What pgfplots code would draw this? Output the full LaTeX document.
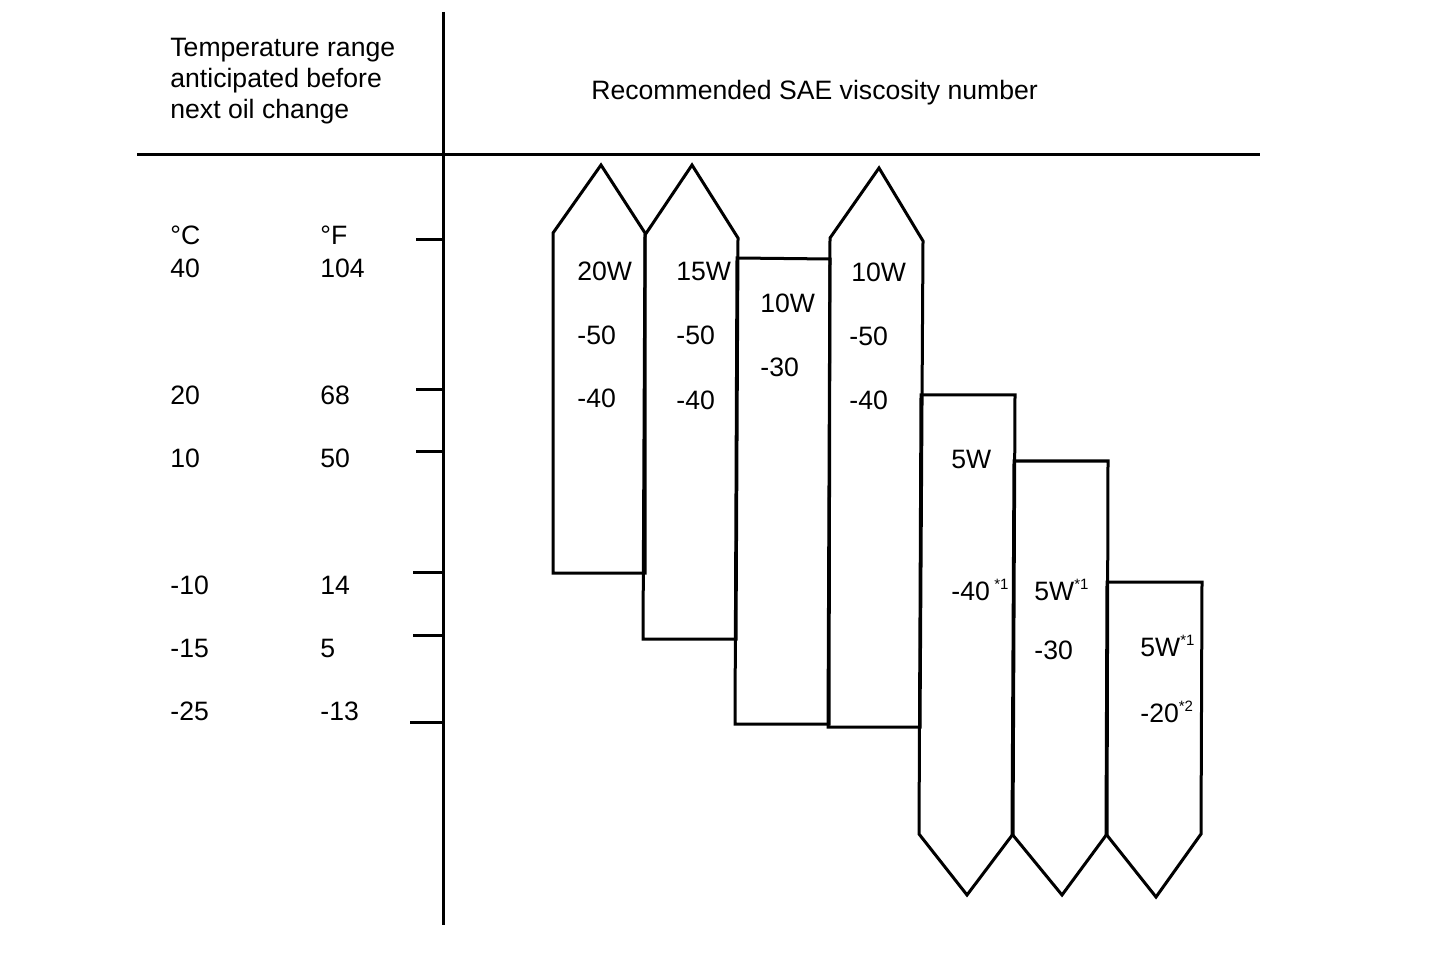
\documentclass[border=0pt]{standalone}
\usepackage{fontspec}
\setmainfont{Liberation Sans}
\usepackage{pgfplots}
\pgfplotsset{compat=1.18}
\newcommand{\sx}[1]{\raisebox{5.2pt}{\fontsize{7.5}{8}\selectfont #1}}
\begin{document}
\fontsize{13.3}{15}\selectfont
\begin{tikzpicture}
\begin{axis}[width=720pt, height=484pt, scale only axis,
  xmin=0, xmax=1440, ymin=0, ymax=968, y dir=reverse,
  hide axis, clip=false,
  ln/.style={black, solid, line width=1.5pt, line join=miter, mark=none},
  nodes={font=\fontsize{13.3}{15}\selectfont, inner sep=0pt, anchor=base west}]
% frame lines
\addplot[ln] coordinates {(443,12) (443,925)};
\addplot[ln] coordinates {(137,155) (1260,155)};
% temperature ticks
\addplot[ln] coordinates {(416,240) (443,240)};
\addplot[ln] coordinates {(416,390) (443,390)};
\addplot[ln] coordinates {(416,452) (443,452)};
\addplot[ln] coordinates {(413,572) (443,572)};
\addplot[ln] coordinates {(413,635) (443,635)};
\addplot[ln] coordinates {(410,722) (443,722)};
% viscosity bars
\addplot[ln] coordinates {(553,573) (553,233) (601,165) (645,233) (645,573)} -- cycle;
\addplot[ln] coordinates {(643,639) (645,235) (692,165) (738,238) (736,639)} -- cycle;
\addplot[ln] coordinates {(735,724) (737,258) (830,259) (829,724)} -- cycle;
\addplot[ln] coordinates {(828,727) (830,238) (879,168) (923,241) (920,727)} -- cycle;
\addplot[ln] coordinates {(919,834) (921,395) (1015,395) (1013,834) (967,895)} -- cycle;
\addplot[ln] coordinates {(1012,834) (1014,461) (1108,461) (1107,834) (1062,895)} -- cycle;
\addplot[ln] coordinates {(1106,834) (1107,582) (1202,582) (1201,834) (1156,897)} -- cycle;
% header text
\node at (axis cs:170,57) {Temperature range};
\node at (axis cs:170,88) {anticipated before};
\node at (axis cs:170,119) {next oil change};
\node at (axis cs:591,100) {Recommended SAE viscosity number};
% temperature labels
\node at (axis cs:170,245) {°C};
\node at (axis cs:320,245) {°F};
\node at (axis cs:170,278) {40};   \node at (axis cs:320,278) {104};
\node at (axis cs:170,405) {20};   \node at (axis cs:320,405) {68};
\node at (axis cs:170,467) {10};   \node at (axis cs:320,467) {50};
\node at (axis cs:170,594) {-10};  \node at (axis cs:320,594) {14};
\node at (axis cs:170,657) {-15};  \node at (axis cs:320,657) {5};
\node at (axis cs:170,720) {-25};  \node at (axis cs:320,720) {-13};
% bar labels
\node at (axis cs:577,281) {20W};
\node at (axis cs:577,345) {-50};
\node at (axis cs:577,408) {-40};
\node at (axis cs:676,281) {15W};
\node at (axis cs:676,345) {-50};
\node at (axis cs:676,409) {-40};
\node at (axis cs:760,313) {10W};
\node at (axis cs:760,377) {-30};
\node at (axis cs:851,282) {10W};
\node at (axis cs:849,346) {-50};
\node at (axis cs:849,409) {-40};
\node at (axis cs:951,468) {5W};
\node at (axis cs:951,600) {-40\,\sx{*1}};
\node at (axis cs:1034,600) {5W\sx{*1}};
\node at (axis cs:1034,659) {-30};
\node at (axis cs:1140,656) {5W\sx{*1}};
\node at (axis cs:1140,722) {-20\sx{*2}};
\end{axis}
\pgfresetboundingbox
\path (current axis.south west) rectangle (current axis.north east);
\end{tikzpicture}
\end{document}
